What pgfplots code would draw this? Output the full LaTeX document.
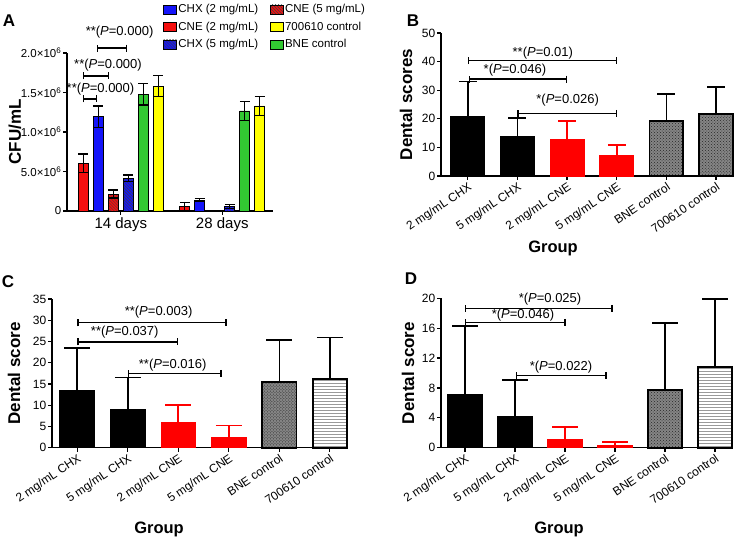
\documentclass[border=0pt]{standalone}
\usepackage{fontspec}
\setmainfont{Liberation Sans}
\usepackage{pgfplots}
\pgfplotsset{compat=1.18}
\usetikzlibrary{patterns,arrows.meta}
\newcommand\fs[1]{\fontsize{#1bp}{#1bp}\selectfont}
\definecolor{gpblue}{RGB}{20,20,250}
\definecolor{gpred}{RGB}{245,15,15}
\definecolor{gpgreen}{RGB}{50,200,50}
\definecolor{gpyellow}{RGB}{255,255,0}
\tikzset{ann/.style={font=\fs{13}}}
\def\capsz{9bp}
\pgfplotsset{
  gp/.style={
    scale only axis, clip=false,
    axis x line*=bottom, axis y line*=left,
    axis line style={-, line width=1.3bp},
    tick style={line width=1.3bp, black},
    major tick length=4bp, tick align=outside,
    /pgf/number format/assume math mode=true,
    yticklabel style={font=\fs{12}, inner sep=1.5bp},
    ymin=0,
  },
  ylab/.style={every axis y label/.style={at={([xshift=#1]axis description cs:0,0.5)}, rotate=90, anchor=center, font=\bfseries\fs{17}}},
  xlab/.style 2 args={every axis x label/.style={at={([xshift=#1,yshift=#2]axis description cs:0.5,0)}, anchor=center, font=\bfseries\fs{16.5}}},
  grp/.style={gp,
    xtick={0,...,5},
    xticklabels={2 mg/mL CHX, 5 mg/mL CHX, 2 mg/mL CNE, 5 mg/mL CNE, BNE control, 700610 control},
    xticklabel style={rotate=34, anchor=north east, font=\fs{12}, inner sep=1bp},
    bar width=0.68, xlabel={Group}},
  eb/.style={error bars/.cd, y dir=plus, y explicit,
    error bar style={line width=1.6bp, #1},
    error mark options={rotate=90, line width=1.6bp, mark size=\capsz, #1}},
  blk/.style={ybar, bar shift=0pt, draw=black, fill=black, line width=1.2bp, eb=black},
  rd/.style={ybar, bar shift=0pt, draw=red, fill=red, line width=1.2bp, eb=red},
  dts/.style={ybar, bar shift=0pt, draw=black, line width=1.8bp, fill=black!48, postaction={pattern=crosshatch dots, pattern color=black!85}, eb=black},
  hl/.style={ybar, bar shift=0pt, draw=black, line width=1.8bp, fill=white, postaction={pattern=horizontal lines, pattern color=black!40}, eb=black},
  abar/.style={ybar, bar shift=0pt, draw=black, line width=0.8bp, error bars/.cd, y dir=both, y explicit,
    error bar style={line width=1.3bp, black},
    error mark options={rotate=90, line width=1.3bp, mark size=5bp, black}},
}
\newcommand\brk[3]{\draw[line width=1.3bp, {Bar[width=7bp]}-{Bar[width=7bp]}] (axis cs:#1,#3) -- (axis cs:#2,#3);}
\begin{document}
\begin{tikzpicture}[x=1bp,y=1bp]
\useasboundingbox (0,0) rectangle (746,539);
% ---------------- A
\begin{axis}[gp, at={(67bp,328bp)}, anchor=south west, width=206bp, height=158bp,
  xmin=-0.53, xmax=1.5, ymax=2e6, scaled y ticks=false,
  ytick={0,500000,1000000,1500000,2000000},
  yticklabels={0, 5.0×10\textsuperscript{6}, 1.0×10\textsuperscript{6}, 1.5×10\textsuperscript{6}, 2.0×10\textsuperscript{6}},
  yticklabel style={font=\fs{11.5}},
  xtick={0,1}, xticklabels={14 days, 28 days},
  xticklabel style={font=\fs{15}, inner sep=2bp},
  bar width=10bp,
  ylab=-52bp, ylabel={CFU/mL},
  transpose legend, legend columns=3,
  legend cell align=left,
  legend image code/.code={\draw[#1,/tikz/.cd,line width=0.8bp] (0bp,-4.5bp) rectangle (13bp,4.5bp);},
  legend style={at={(axis description cs:0.451,1.335)}, anchor=north west, draw=none, fill=none,
    font=\fs{11.5}, nodes={inner sep=1.5bp, text height=9bp, text depth=2.5bp}, row sep=3bp,
    /tikz/every even column/.append style={column sep=10bp}},
]
\addplot[fill=gpblue, abar] coordinates {(-0.222,1194000) +- (0,135000) (0.778,139000) +- (0,21000)};
\addplot[fill=gpred, abar] coordinates {(-0.369,603000) +- (0,117000) (0.631,55000) +- (0,50000)};
\addplot[fill=gpblue, postaction={pattern=north west lines, pattern color=black!75}, abar] coordinates {(0.074,413000) +- (0,42000) (1.074,55000) +- (0,25000)};
\addplot[fill=gpred, postaction={pattern=north west lines, pattern color=black!75}, abar] coordinates {(-0.074,215000) +- (0,50000)};
\addplot[fill=gpyellow, abar] coordinates {(0.369,1582000) +- (0,135000) (1.369,1329000) +- (0,118000)};
\addplot[fill=gpgreen, abar] coordinates {(0.222,1477000) +- (0,135000) (1.222,1266000) +- (0,118000)};
\legend{CHX (2 mg/mL), CNE (2 mg/mL), CHX (5 mg/mL), CNE (5 mg/mL), 700610 control, BNE control}
\brk{-0.234}{0.062}{2063000}
\node[ann] at (axis cs:-0.012,2266000) {**(\textit{P}=0.000)};
\brk{-0.372}{-0.116}{1709000}
\node[ann] at (axis cs:-0.126,1848000) {**(\textit{P}=0.000)};
\brk{-0.372}{-0.234}{1418000}
\node[ann] at (axis cs:-0.2,1544000) {**(\textit{P}=0.000)};
\end{axis}
% ---------------- B
\def\capsz{9bp}
\begin{axis}[grp, at={(441bp,363bp)}, anchor=south west, width=292bp, height=143bp,
  xmin=-0.54, xmax=5.34, ymax=50, ytick={0,10,...,50},
  ylab=-35bp, xlab={-34bp}{-72bp}, ylabel={Dental scores}]
\addplot[blk] coordinates {(0,20.6) +- (0,12.4)};
\addplot[blk] coordinates {(1,13.7) +- (0,6.5)};
\addplot[rd] coordinates {(2,12.8) +- (0,6.5)};
\addplot[rd] coordinates {(3,7.3) +- (0,3.5)};
\addplot[dts] coordinates {(4,19.3) +- (0,9.3)};
\addplot[dts] coordinates {(5,21.6) +- (0,9.6)};
\brk{0}{3}{40.3}
\node[ann] at (axis cs:1.51,43.0) {**(\textit{P}=0.01)};
\brk{0.02}{2}{33.9}
\node[ann] at (axis cs:0.95,37.1) {*(\textit{P}=0.046)};
\brk{1}{3}{21.9}
\node[ann] at (axis cs:2.01,26.6) {*(\textit{P}=0.026)};
\end{axis}
% ---------------- C
\def\capsz{13bp}
\begin{axis}[grp, at={(52bp,91.3bp)}, anchor=south west, width=296bp, height=148.7bp,
  xmin=-0.5, xmax=5.36, ymax=35, ytick={0,5,...,35},
  ylab=-38bp, xlab={-41bp}{-82bp}, ylabel={Dental score}]
\addplot[blk] coordinates {(0,13.4) +- (0,10.1)};
\addplot[blk] coordinates {(1,9.0) +- (0,7.5)};
\addplot[rd] coordinates {(2,5.9) +- (0,4.1)};
\addplot[rd] coordinates {(3,2.4) +- (0,2.8)};
\addplot[dts] coordinates {(4,15.5) +- (0,9.8)};
\addplot[hl] coordinates {(5,16.2) +- (0,9.7)};
\brk{0}{2.96}{29.4}
\node[ann] at (axis cs:1.61,32.0) {**(\textit{P}=0.003)};
\brk{0}{2}{24.9}
\node[ann] at (axis cs:0.94,27.2) {**(\textit{P}=0.037)};
\brk{1}{2.86}{17.5}
\node[ann] at (axis cs:1.89,19.5) {**(\textit{P}=0.016)};
\end{axis}
% ---------------- D
\begin{axis}[grp, at={(441bp,91.3bp)}, anchor=south west, width=291bp, height=149.3bp,
  xmin=-0.48, xmax=5.34, ymax=20, ytick={0,4,...,20},
  ylab=-33bp, xlab={-27.5bp}{-82bp}, ylabel={Dental score}]
\addplot[blk] coordinates {(0,7.1) +- (0,9.2)};
\addplot[blk] coordinates {(1,4.15) +- (0,4.9)};
\addplot[rd] coordinates {(2,1.03) +- (0,1.77)};
\addplot[rd] coordinates {(3,0.27) +- (0,0.53)};
\addplot[dts] coordinates {(4,7.7) +- (0,9.0)};
\addplot[hl] coordinates {(5,10.8) +- (0,9.1)};
\brk{0}{2.95}{18.66}
\node[ann] at (axis cs:1.70,19.87) {*(\textit{P}=0.025)};
\brk{0}{2.01}{16.8}
\node[ann] at (axis cs:1.16,17.76) {*(\textit{P}=0.046)};
\brk{1.01}{2.83}{9.64}
\node[ann] at (axis cs:1.92,10.84) {*(\textit{P}=0.022)};
\end{axis}
\node[font=\bfseries\fs{17}] at (9,518) {A};
\node[font=\bfseries\fs{17}] at (413,518) {B};
\node[font=\bfseries\fs{17}] at (8,257) {C};
\node[font=\bfseries\fs{17}] at (411,260) {D};
\end{tikzpicture}
\end{document}
